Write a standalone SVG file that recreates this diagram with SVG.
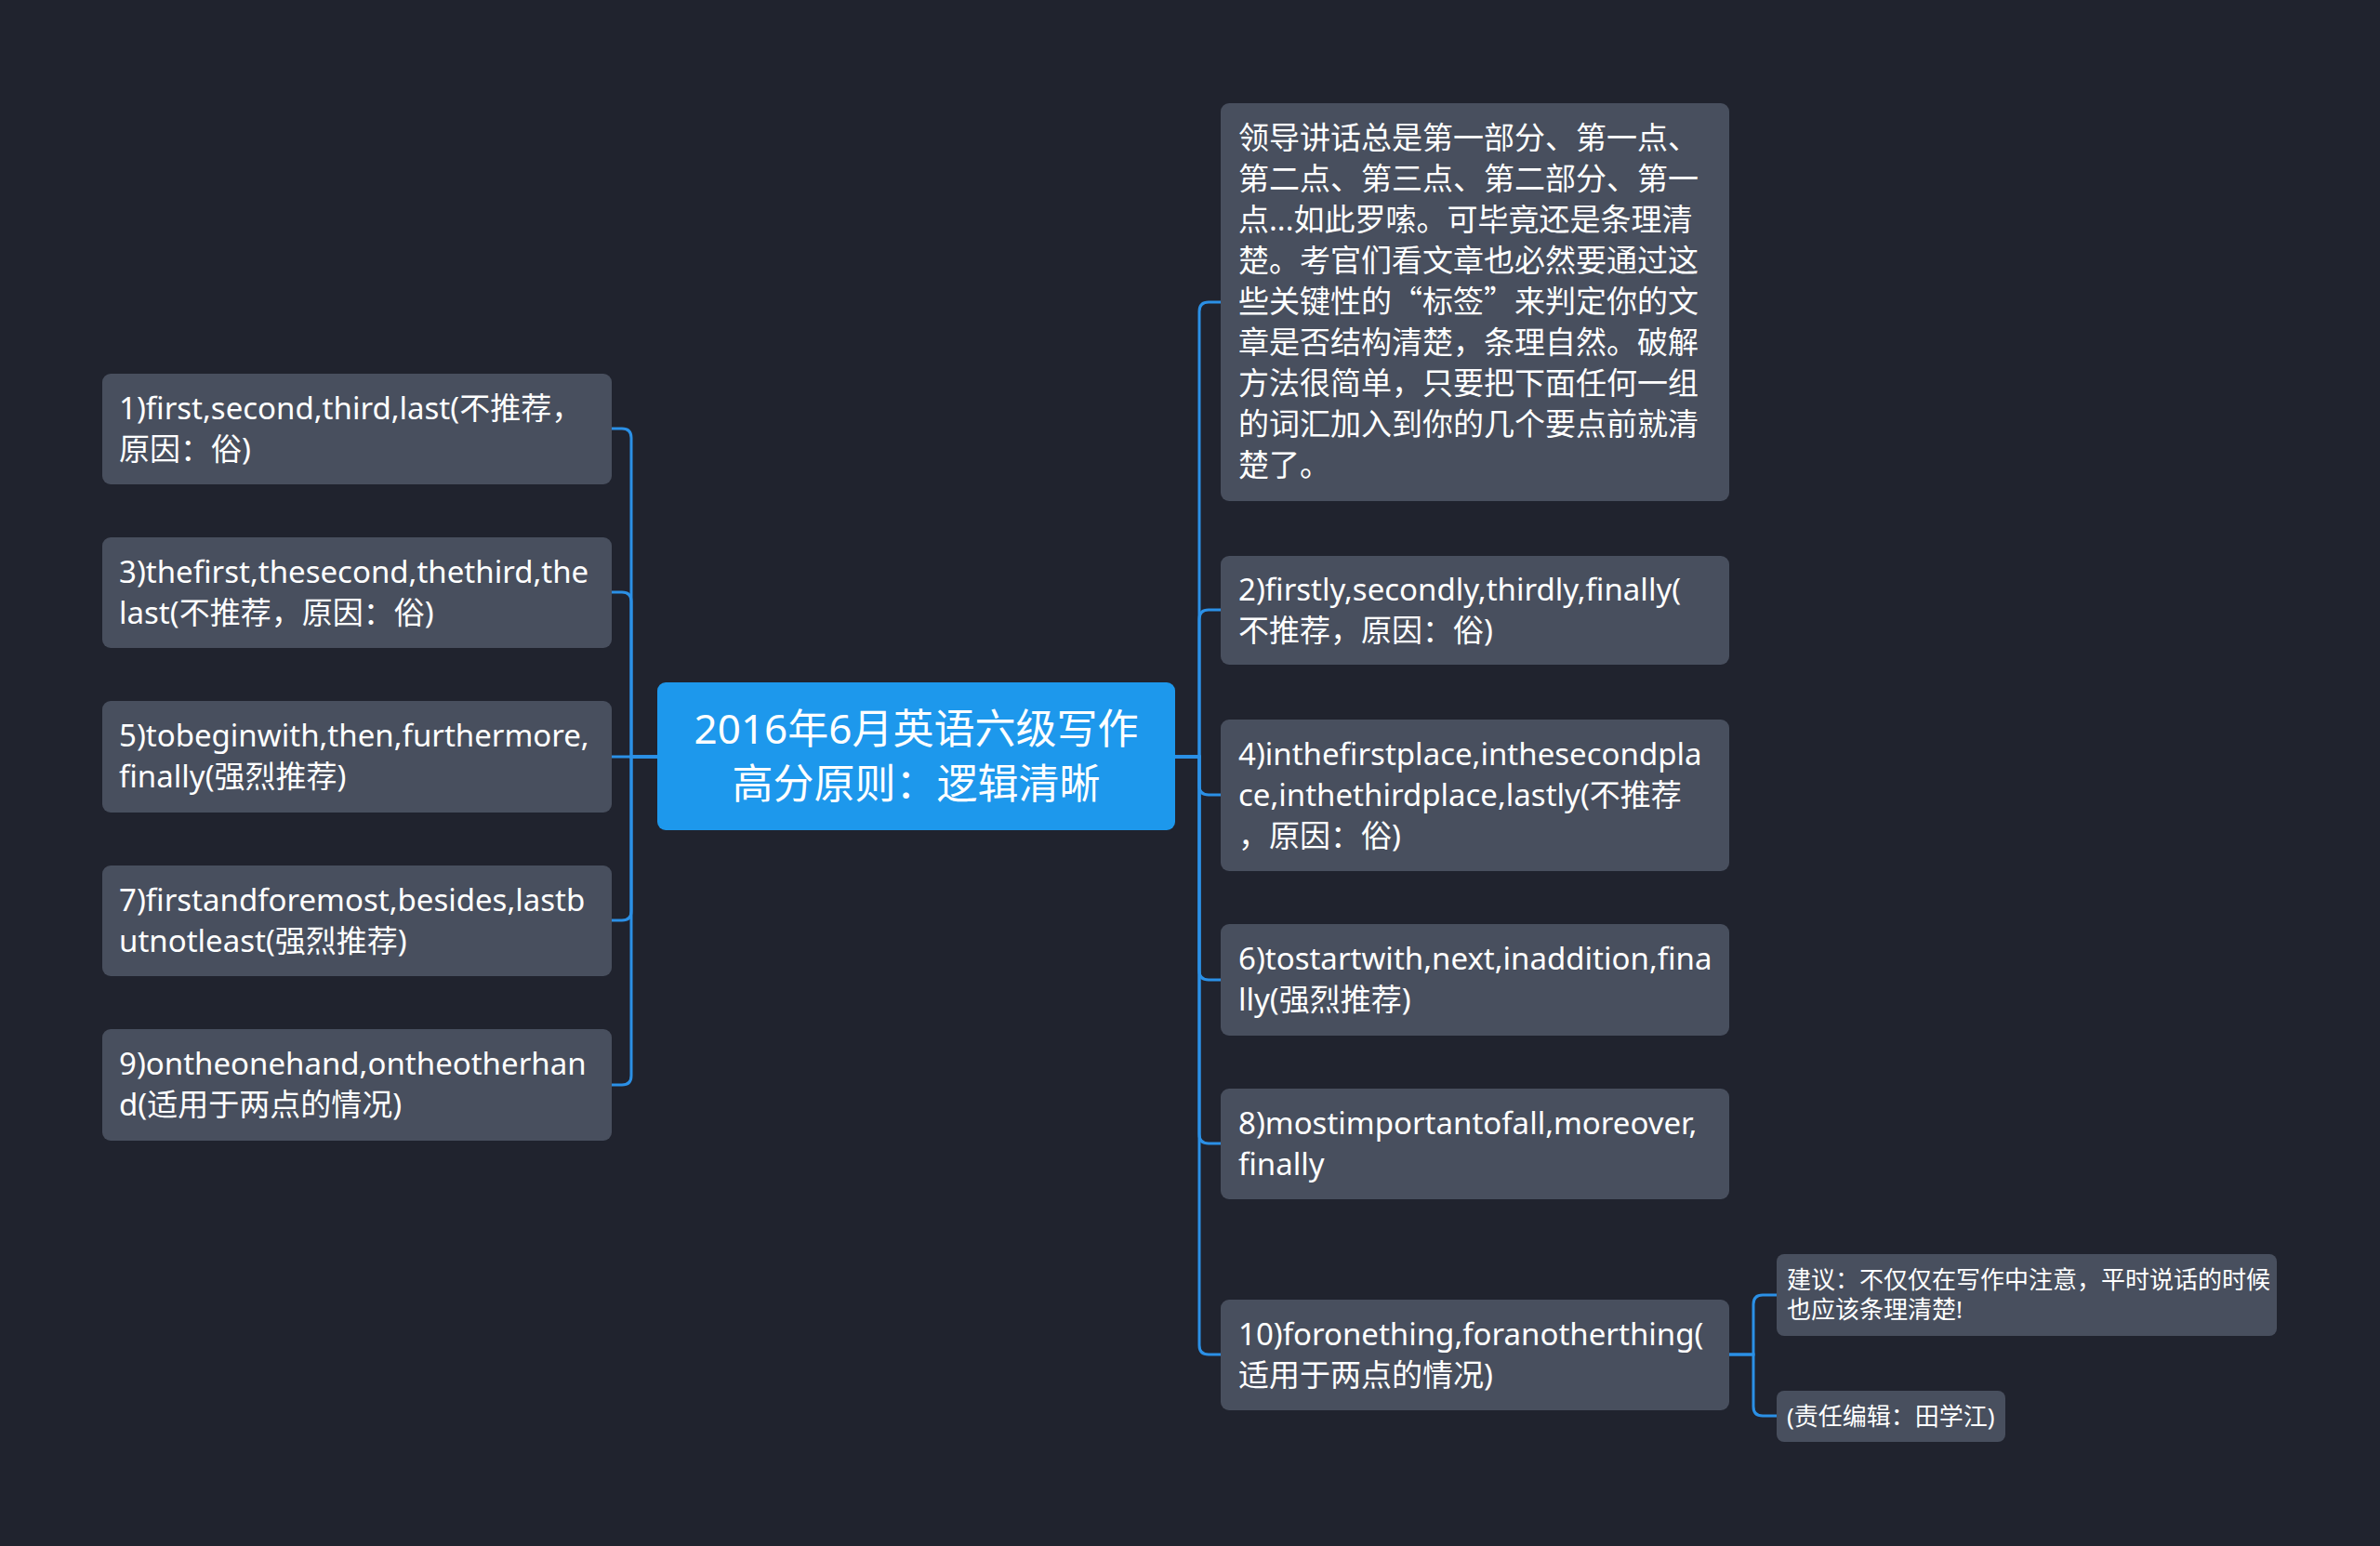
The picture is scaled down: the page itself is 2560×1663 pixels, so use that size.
<svg xmlns="http://www.w3.org/2000/svg" width="2560" height="1663" viewBox="0 0 2560 1663">
<style>
.bg{fill:#20232e}
.node{fill:#484f5e}
.root{fill:#1d98ec}
.t{font-family:"Noto Sans","Noto Sans CJK SC",sans-serif;font-size:33px;fill:#ffffff}
.rt{font-family:"Noto Sans","Noto Sans CJK SC",sans-serif;font-size:44px;fill:#ffffff;text-anchor:middle}
.st{font-family:"Noto Sans","Noto Sans CJK SC",sans-serif;font-size:26px;fill:#ffffff}
.cjk{font-family:"Noto Sans CJK SC",sans-serif}
.c{fill:none;stroke:#2b90e6;stroke-width:3}
</style>
<rect class="bg" x="0" y="0" width="2560" height="1663"/>
<g id="connectors">
<path class="c" d="M707 814 H679 V471 Q679 461 669 461 H658"/>
<path class="c" d="M707 814 H679 V647 Q679 637 669 637 H658"/>
<path class="c" d="M707 814 H658"/>
<path class="c" d="M707 814 H679 V980 Q679 990 669 990 H658"/>
<path class="c" d="M707 814 H679 V1157 Q679 1167 669 1167 H658"/>
<path class="c" d="M1264 814 H1290 V335 Q1290 325 1300 325 H1313"/>
<path class="c" d="M1264 814 H1290 V666 Q1290 656 1300 656 H1313"/>
<path class="c" d="M1264 814 H1290 V845 Q1290 855 1300 855 H1313"/>
<path class="c" d="M1264 814 H1290 V1044 Q1290 1054 1300 1054 H1313"/>
<path class="c" d="M1264 814 H1290 V1220 Q1290 1230 1300 1230 H1313"/>
<path class="c" d="M1264 814 H1290 V1447 Q1290 1457 1300 1457 H1313"/>
<path class="c" d="M1860 1457 H1886 V1403 Q1886 1393 1896 1393 H1911"/>
<path class="c" d="M1860 1457 H1886 V1513 Q1886 1523 1896 1523 H1911"/>
</g>
<g id="root">
<rect class="root" x="707" y="734" width="557" height="159" rx="9"/>
<text class="rt" x="985.5" y="800">2016年6月英语六级写作</text>
<text class="rt" x="985.5" y="859">高分原则：逻辑清晰</text>
</g>
<g id="n1">
<rect class="node" x="110" y="402" width="548" height="119" rx="9"/>
<text class="t" x="128" y="451">1)first,second,third,last(不推荐，</text>
<text class="t" x="128" y="495">原因：俗)</text>
</g>
<g id="n3">
<rect class="node" x="110" y="578" width="548" height="119" rx="9"/>
<text class="t" x="128" y="627">3)thefirst,thesecond,thethird,the</text>
<text class="t" x="128" y="671">last(不推荐，原因：俗)</text>
</g>
<g id="n5">
<rect class="node" x="110" y="754" width="548" height="120" rx="9"/>
<text class="t" x="128" y="803">5)tobeginwith,then,furthermore,</text>
<text class="t" x="128" y="847">finally(强烈推荐)</text>
</g>
<g id="n7">
<rect class="node" x="110" y="931" width="548" height="119" rx="9"/>
<text class="t" x="128" y="980">7)firstandforemost,besides,lastb</text>
<text class="t" x="128" y="1024">utnotleast(强烈推荐)</text>
</g>
<g id="n9">
<rect class="node" x="110" y="1107" width="548" height="120" rx="9"/>
<text class="t" x="128" y="1156">9)ontheonehand,ontheotherhan</text>
<text class="t" x="128" y="1200">d(适用于两点的情况)</text>
</g>
<g id="nIntro">
<rect class="node" x="1313" y="111" width="547" height="428" rx="9"/>
<text class="t" x="1332" y="160">领导讲话总是第一部分、第一点、</text>
<text class="t" x="1332" y="204">第二点、第三点、第二部分、第一</text>
<text class="t" x="1332" y="248">点...如此罗嗦。可毕竟还是条理清</text>
<text class="t" x="1332" y="292">楚。考官们看文章也必然要通过这</text>
<text class="t" x="1332" y="336">些关键性的<tspan class="cjk">“标签”</tspan>来判定你的文</text>
<text class="t" x="1332" y="380">章是否结构清楚，条理自然。破解</text>
<text class="t" x="1332" y="424">方法很简单，只要把下面任何一组</text>
<text class="t" x="1332" y="468">的词汇加入到你的几个要点前就清</text>
<text class="t" x="1332" y="512">楚了。</text>
</g>
<g id="n2">
<rect class="node" x="1313" y="598" width="547" height="117" rx="9"/>
<text class="t" x="1332" y="646">2)firstly,secondly,thirdly,finally(</text>
<text class="t" x="1332" y="690">不推荐，原因：俗)</text>
</g>
<g id="n4">
<rect class="node" x="1313" y="774" width="547" height="163" rx="9"/>
<text class="t" x="1332" y="823">4)inthefirstplace,inthesecondpla</text>
<text class="t" x="1332" y="867">ce,inthethirdplace,lastly(不推荐</text>
<text class="t" x="1332" y="911">，原因：俗)</text>
</g>
<g id="n6">
<rect class="node" x="1313" y="994" width="547" height="120" rx="9"/>
<text class="t" x="1332" y="1043">6)tostartwith,next,inaddition,fina</text>
<text class="t" x="1332" y="1087">lly(强烈推荐)</text>
</g>
<g id="n8">
<rect class="node" x="1313" y="1171" width="547" height="119" rx="9"/>
<text class="t" x="1332" y="1220">8)mostimportantofall,moreover,</text>
<text class="t" x="1332" y="1264">finally</text>
</g>
<g id="n10">
<rect class="node" x="1313" y="1398" width="547" height="119" rx="9"/>
<text class="t" x="1332" y="1447">10)foronething,foranotherthing(</text>
<text class="t" x="1332" y="1491">适用于两点的情况)</text>
</g>
<g id="s1">
<rect class="node" x="1911" y="1349" width="538" height="88" rx="8"/>
<text class="st" x="1922" y="1386">建议：不仅仅在写作中注意，平时说话的时候</text>
<text class="st" x="1922" y="1418">也应该条理清楚!</text>
</g>
<g id="s2">
<rect class="node" x="1911" y="1496" width="246" height="55" rx="8"/>
<text class="st" x="1922" y="1533">(责任编辑：田学江)</text>
</g>
</svg>
